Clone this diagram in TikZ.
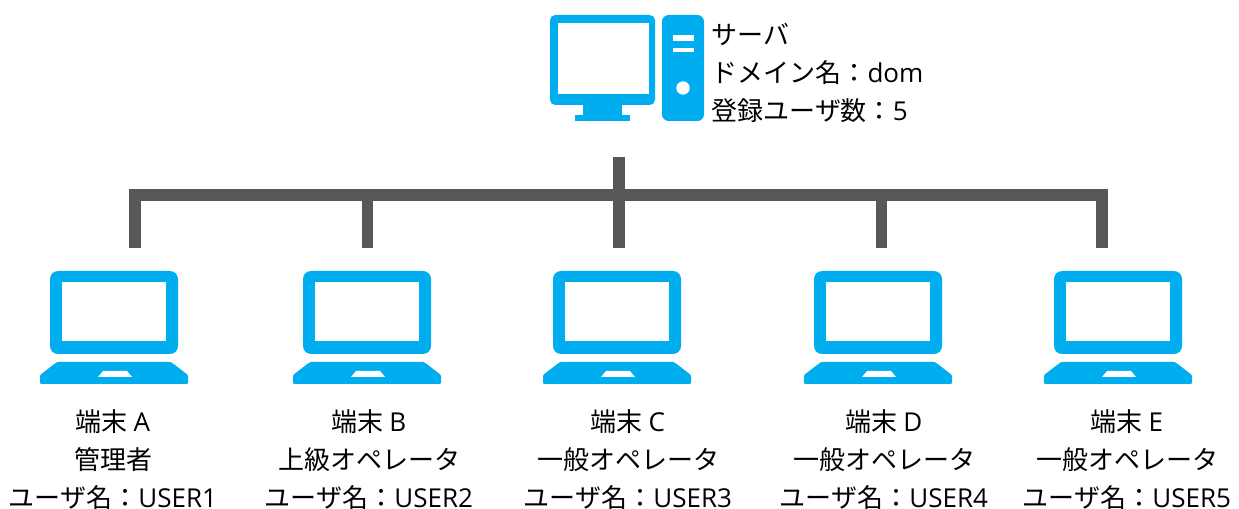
\documentclass[tikz,border=0pt]{standalone}
\usepackage{fontspec}
\setmainfont{Noto Sans CJK JP}
\newfontfamily\lat{Open Sans}
\definecolor{iconblue}{HTML}{00AEEF}
\definecolor{busgrey}{HTML}{595757}
\tikzset{
  x=0.75pt, y=-0.75pt,
  bus/.style={draw=busgrey, line width=8.8pt, line cap=butt, line join=miter},
  icon/.style={fill=iconblue, draw=none},
  hole/.style={fill=white, draw=none},
  label/.style={inner sep=0pt, outer sep=0pt, align=center, text=black, font=\fontsize{19.5}{28.5}\selectfont},
  laptop/.pic={
    \fill[icon, rounded corners=6pt] (10,0) rectangle (138,83);
    \fill[hole] (22,11) rectangle (126,70);
    \fill[icon, rounded corners=0.8pt] (17,91) -- (131,91) -- (148,104) -- (148,113) -- (0,113) -- (0,104) -- cycle;
    \fill[hole] (63,100) -- (87,100) -- (92,106) -- (58,106) -- cycle;
  }
}
\begin{document}
\begin{tikzpicture}
\useasboundingbox (0,0) rectangle (1239,509);
% server
\fill[icon, rounded corners=4pt] (550,15) rectangle (655,105);
\fill[hole] (557.5,23) rectangle (648.5,94);
\fill[icon] (583,104) rectangle (622,116);
\fill[icon] (575,115) rectangle (630,121);
\fill[icon, rounded corners=5pt] (662,15) rectangle (704,121);
\fill[hole] (673,35) rectangle (694,41.5);
\fill[hole] (673,48) rectangle (694,52);
\fill[hole] (683,88) circle[radius=6.7];
\node[label, anchor=west, align=left] (srvtext) at (711.5,73) {サーバ\\ドメイン名：{\lat dom}\\登録ユーザ数：{\lat 5}};
% laptops
\pic at (40,271) {laptop};
\pic at (293,271) {laptop};
\pic at (543,271) {laptop};
\pic at (804,271) {laptop};
\pic at (1044,271) {laptop};
% connector ends
\coordinate (srv) at (619,157);
\coordinate (hub) at (619,195);
\coordinate (busA) at (135,195);
\coordinate (busB) at (367.5,195);
\coordinate (busD) at (881.5,195);
\coordinate (busE) at (1102,195);
\coordinate (endA) at (135,248);
\coordinate (endB) at (367.5,248);
\coordinate (endC) at (619,248);
\coordinate (endD) at (881.5,248);
\coordinate (endE) at (1102,248);
\draw[bus] (endA) -- (busA) -- (busE) -- (endE);
\draw[bus] (srv) -- (endC);
\draw[bus] (busB) -- (endB);
\draw[bus] (busD) -- (endD);
% labels
\node[label] (termA) at (113,459.5) {端末 {\lat A}\\管理者\\ユーザ名：{\lat USER1}};
\node[label] (termB) at (369,459.5) {端末 {\lat B}\\上級オペレータ\\ユーザ名：{\lat USER2}};
\node[label] (termC) at (628,459.5) {端末 {\lat C}\\一般オペレータ\\ユーザ名：{\lat USER3}};
\node[label] (termD) at (884,459.5) {端末 {\lat D}\\一般オペレータ\\ユーザ名：{\lat USER4}};
\node[label] (termE) at (1127,459.5) {端末 {\lat E}\\一般オペレータ\\ユーザ名：{\lat USER5}};
\end{tikzpicture}
\end{document}
